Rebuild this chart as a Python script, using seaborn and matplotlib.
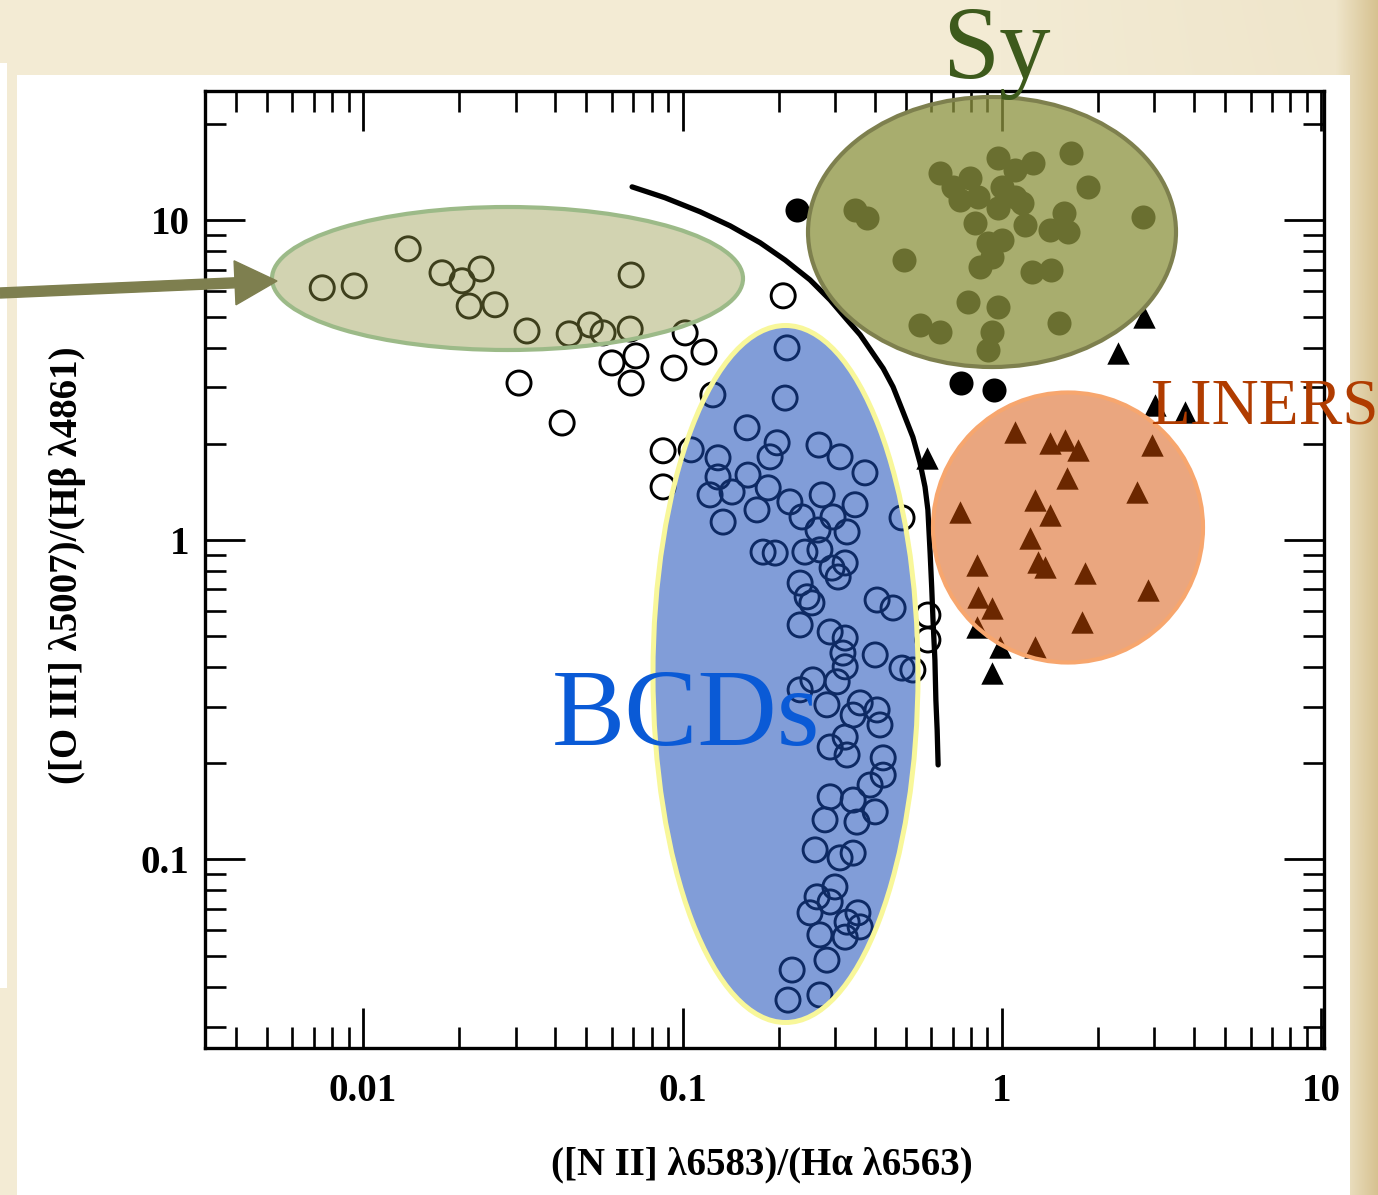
import numpy as np
import pandas as pd
import matplotlib
matplotlib.use("Agg")
import matplotlib.pyplot as plt
import seaborn as sns
from matplotlib.patches import Ellipse, Rectangle, FancyArrow
from matplotlib.transforms import IdentityTransform
from matplotlib.ticker import LogLocator, FuncFormatter, NullFormatter

# ---------------- data (log10 line ratios) ----------------
# open circles: HII galaxies / BCDs
hii_log_nii = [-2.128, -2.028, -1.859, -1.753, -1.690, -1.631, -1.668, -1.587, -1.487, -1.355,
               -1.289, -1.249, -1.164, -1.161, -1.221, -1.146, -1.161, -0.992, -0.933, -1.027,
               -1.512, -1.377, -0.905, -1.061, -1.061, -0.973, -0.685, -0.673, -0.679, -0.798,
               -0.704, -0.726, -0.573, -0.507, -0.429, -0.889, -0.889, -0.795, -0.914, -0.845,
               -0.873, -0.767, -0.732, -0.664, -0.626, -0.563, -0.460, -0.529, -0.485, -0.576,
               -0.313, -0.748, -0.710, -0.617, -0.570, -0.532, -0.491, -0.513, -0.632, -0.610,
               -0.595, -0.632, -0.538, -0.491, -0.498, -0.491, -0.391, -0.341, -0.232, -0.232,
               -0.592, -0.516, -0.632, -0.397, -0.313, -0.279, -0.444, -0.391, -0.548, -0.466,
               -0.382, -0.538, -0.485, -0.491, -0.372, -0.372, -0.413, -0.538, -0.466, -0.397,
               -0.554, -0.454, -0.585, -0.507, -0.466, -0.523, -0.579, -0.538, -0.601, -0.451,
               -0.485, -0.444, -0.570, -0.491, -0.548, -0.657, -0.570, -0.670]
hii_log_oiii = [0.789, 0.795, 0.911, 0.836, 0.811, 0.848, 0.732, 0.736, 0.654, 0.645,
                0.673, 0.648, 0.660, 0.829, 0.554, 0.576, 0.491, 0.648, 0.588, 0.538,
                0.491, 0.366, 0.454, 0.279, 0.166, 0.282, 0.764, 0.601, 0.444, 0.351,
                0.304, 0.260, 0.297, 0.260, 0.210, 0.257, 0.197, 0.203, 0.141, 0.150,
                0.056, 0.094, 0.163, 0.119, 0.072, 0.141, 0.110, 0.072, 0.025, 0.031,
                0.069, -0.038, -0.041, -0.038, -0.031, -0.088, -0.072, -0.116, -0.135, -0.178,
                -0.197, -0.266, -0.288, -0.307, -0.354, -0.397, -0.188, -0.213, -0.235, -0.313,
                -0.438, -0.444, -0.469, -0.360, -0.401, -0.407, -0.510, -0.532, -0.516, -0.548,
                -0.579, -0.648, -0.673, -0.617, -0.682, -0.736, -0.767, -0.804, -0.814, -0.851,
                -0.876, -0.883, -0.970, -0.995, -0.980, -1.086, -1.117, -1.133, -1.167, -1.167,
                -1.196, -1.211, -1.236, -1.243, -1.315, -1.346, -1.424, -1.440]

# filled circles: Seyferts
sy_log_nii = [-0.642, -0.128, -0.025, -0.460, -0.423, -0.307, -0.194, -0.153, -0.100, -0.131,
              -0.075, -0.013, 0.041, 0.097, 0.000, 0.041, -0.013, -0.085, 0.063, 0.072,
              -0.044, 0.000, -0.069, -0.031, 0.216, 0.269, 0.194, 0.150, 0.207, 0.441,
              0.094, 0.153, -0.106, -0.013, -0.257, -0.194, -0.031, -0.044, 0.178]
sy_log_oiii = [1.033, 0.491, 0.469, 1.033, 1.008, 0.876, 1.149, 1.105, 1.133, 1.064,
               1.074, 1.196, 1.158, 1.180, 1.105, 1.074, 1.039, 0.992, 1.055, 0.986,
               0.930, 0.939, 0.854, 0.886, 1.211, 1.105, 1.023, 0.970, 0.964, 1.011,
               0.839, 0.845, 0.745, 0.729, 0.673, 0.651, 0.651, 0.595, 0.679]

# filled triangles: LINERs
liner_log_nii = [0.444, 0.363, 0.479, 0.573, -0.235, -0.078, -0.006, -0.031,
                 0.041, 0.150, 0.197, 0.238, 0.469, 0.203, 0.423, 0.103, -0.131, 0.150,
                 0.088, 0.113, 0.135, -0.078, 0.260, 0.457, -0.075, -0.031, 0.250, 0.103]
liner_log_oiii = [0.698, 0.585, 0.423, 0.401, 0.257, -0.272, -0.335, -0.416,
                  0.338, 0.304, 0.313, 0.282, 0.297, 0.194, 0.150, 0.125, 0.088, 0.078,
                  0.006, -0.069, -0.085, -0.078, -0.103, -0.156, -0.178, -0.213, -0.257, -0.335]

# demarcation curve
curve_log_nii = [-1.158, -1.055, -0.945, -0.851, -0.757, -0.679, -0.601, -0.538, -0.485,
                 -0.444, -0.407, -0.372, -0.341, -0.310, -0.279, -0.257, -0.241, -0.232,
                 -0.225, -0.220, -0.216, -0.210, -0.207, -0.203, -0.200]
curve_log_oiii = [1.105, 1.071, 1.027, 0.983, 0.930, 0.876, 0.814, 0.751, 0.689,
                  0.642, 0.588, 0.537, 0.479, 0.401, 0.322, 0.243, 0.166, 0.094,
                  -0.041, -0.150, -0.250, -0.376, -0.501, -0.595, -0.704]

x_label = "([N II] \u03bb6583)/(H\u03b1 \u03bb6563)"
y_label = "([O III] \u03bb5007)/(H\u03b2 \u03bb4861)"
x_limits_log = (-2.495, 1.008)
y_limits_log = (-1.590, 1.405)

# ---------------- figure ----------------
plt.rcParams['font.family'] = ['Liberation Serif', 'DejaVu Serif']
plt.rcParams['font.weight'] = 'bold'

W, H = 1378, 1195
fig = plt.figure(figsize=(W / 100, H / 100), dpi=100)

# parchment background (decorative gradient)
bg = fig.add_axes([0, 0, 1, 1], zorder=-10)
bg.set_axis_off()
base = np.array([243, 235, 212]) / 255.0
dark = np.array([214, 193, 143]) / 255.0
xs = np.arange(W)
t = np.clip((xs - 1335) / 43.0, 0, 1)[None, :, None]
ys = np.arange(H)
tv = (0.15 * (1 - ys / H))[:, None, None] * np.clip((xs - 1000) / 378.0, 0, 1)[None, :, None]
img = base * (1 - t) + dark * t
img = img * (1 - tv) + dark * tv
bg.imshow(img, extent=[0, W, 0, H], aspect='auto', origin='upper', interpolation='bilinear')
bg.set_xlim(0, W)
bg.set_ylim(0, H)
bg.add_patch(Rectangle((17, 0), 1333, H - 75, facecolor='white', edgecolor='none'))
bg.add_patch(Rectangle((0, H - 988), 7, 988 - 63, facecolor='white', edgecolor='none'))

ax = fig.add_axes([205 / W, 1 - 1048 / H, (1324 - 205) / W, (1048 - 91) / H])
ax.set_facecolor('white')
ax.set_xscale('log')
ax.set_yscale('log')

df_hii = pd.DataFrame({'x': 10 ** np.array(hii_log_nii), 'y': 10 ** np.array(hii_log_oiii)})
df_sy = pd.DataFrame({'x': 10 ** np.array(sy_log_nii), 'y': 10 ** np.array(sy_log_oiii)})
df_li = pd.DataFrame({'x': 10 ** np.array(liner_log_nii), 'y': 10 ** np.array(liner_log_oiii)})
df_cv = pd.DataFrame({'x': 10 ** np.array(curve_log_nii), 'y': 10 ** np.array(curve_log_oiii)})

sns.scatterplot(data=df_hii, x='x', y='y', ax=ax, marker='o', s=300, color='black',
                linewidth=2.1, legend=False)
coll = ax.collections[-1]
coll.set_facecolor('none')
coll.set_edgecolor('black')
coll.set_linewidth(2.1)

sns.scatterplot(data=df_sy, x='x', y='y', ax=ax, marker='o', s=300, color='black',
                linewidth=0, legend=False)
sns.scatterplot(data=df_li, x='x', y='y', ax=ax, marker='^', s=260, color='black',
                linewidth=0, legend=False)
sns.lineplot(data=df_cv, x='x', y='y', ax=ax, sort=False, estimator=None, color='black',
             linewidth=3.8, legend=False)
ax.lines[-1].set_solid_capstyle('round')
ax.lines[-1].set_solid_joinstyle('round')

ax.set_xlim(10 ** x_limits_log[0], 10 ** x_limits_log[1])
ax.set_ylim(10 ** y_limits_log[0], 10 ** y_limits_log[1])

fmt = FuncFormatter(lambda v, p: f"{v:g}")
for axis in (ax.xaxis, ax.yaxis):
    axis.set_major_locator(LogLocator(base=10))
    axis.set_minor_locator(LogLocator(base=10, subs=np.arange(2, 10)))
    axis.set_major_formatter(fmt)
    axis.set_minor_formatter(NullFormatter())

for sp in ax.spines.values():
    sp.set_linewidth(2.4)
    sp.set_color('black')
ax.tick_params(which='major', direction='in', length=29, width=2.0, top=True, right=True,
               labelsize=28, colors='black')
ax.tick_params(which='minor', direction='in', length=15, width=1.9, top=True, right=True)
ax.tick_params(axis='x', which='major', pad=18)
ax.tick_params(axis='y', which='major', pad=11)

ax.set_xlabel(x_label, fontsize=28, fontweight='bold')
ax.set_ylabel(y_label, fontsize=28, fontweight='bold')
ax.xaxis.set_label_coords(0.498, -0.103)
ax.yaxis.set_label_coords(-0.106, 0.505)

# ---------------- overlay annotations (pixel positions of the slide) ----------------
ident = IdentityTransform()

def P(x, y):
    return (x, H - y)

ell_green = Ellipse(P(507.5, 278.5), 471, 143, transform=ident, zorder=2,
                    facecolor=(0.58, 0.594, 0.27, 0.42), edgecolor='#9cba88', linewidth=3.0)
ell_sy = Ellipse(P(992, 232), 368, 270, transform=ident, zorder=2,
                 facecolor=(0.553, 0.576, 0.251, 0.76), edgecolor='#7e804e', linewidth=3.0)
ell_liner = Ellipse(P(1068, 527.5), 270, 270, transform=ident, zorder=2,
                    facecolor=(0.84, 0.31, 0.0, 0.50), edgecolor='#f7a66e', linewidth=3.0)
ell_bcd = Ellipse(P(785.5, 674), 265, 697, transform=ident, zorder=2,
                  facecolor=(0.10, 0.30, 0.72, 0.55), edgecolor='#f8f79a', linewidth=3.6)
for e in (ell_green, ell_sy, ell_liner, ell_bcd):
    fig.add_artist(e)

arrow = FancyArrow(0, H - 293, 277, 12, width=10, head_width=44, head_length=42,
                   length_includes_head=True, color='#7e7f4f', transform=ident, zorder=3)
fig.add_artist(arrow)

fig.text(942, H - 78, "Sy", transform=ident, ha='left', va='baseline', fontsize=74,
         fontweight='normal', color='#3d5a1c', zorder=4)
fig.text(1150, H - 423, "LINERS", transform=ident, ha='left', va='baseline', fontsize=47,
         fontweight='normal', color='#b03c00', zorder=4)
fig.text(552, H - 745, "BCDs", transform=ident, ha='left', va='baseline', fontsize=79,
         fontweight='normal', color='#0a5ad6', zorder=4)

fig.savefig("out.png", dpi=100)
